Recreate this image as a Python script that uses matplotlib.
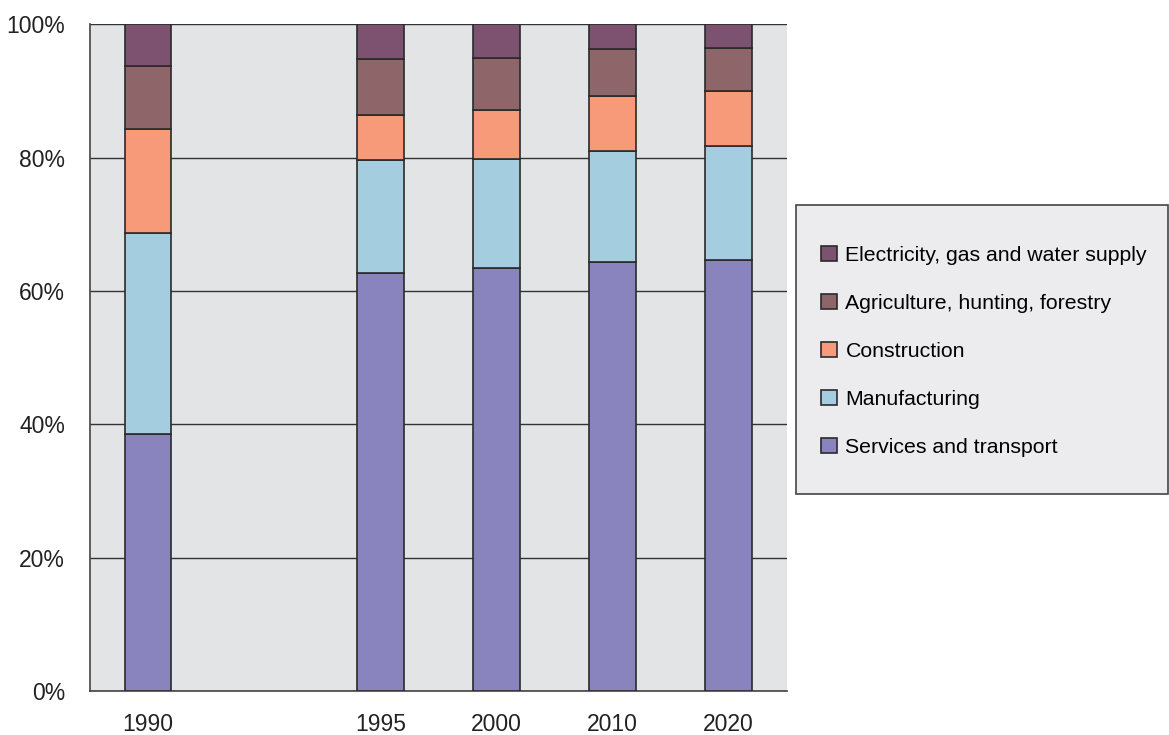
import numpy as np
import matplotlib.pyplot as plt
from matplotlib.patches import Rectangle

plt.rcParams['font.family'] = ['Liberation Sans', 'DejaVu Sans']

# data (share in %)
years = ['1990', '1995', '2000', '2010', '2020']
positions = [0, 2, 3, 4, 5]
services = [38.5, 62.7, 63.4, 64.3, 64.6]
manufacturing = [30.2, 16.9, 16.4, 16.7, 17.1]
construction = [15.6, 6.8, 7.3, 8.2, 8.3]
agriculture = [9.4, 8.4, 7.8, 7.1, 6.4]
electricity = [6.3, 5.2, 5.1, 3.7, 3.6]

series = [
    ('Services and transport', services, '#8984be'),
    ('Manufacturing', manufacturing, '#a5cde0'),
    ('Construction', construction, '#f79a7a'),
    ('Agriculture, hunting, forestry', agriculture, '#8e666a'),
    ('Electricity, gas and water supply', electricity, '#7d5270'),
]

fig = plt.figure(figsize=(11.69, 7.35), dpi=100)
ax = fig.add_axes([0.077, 0.06, 0.596, 0.907])
ax.set_facecolor('#e3e4e6')

bottom = np.zeros(len(years))
handles = []
for name, vals, col in series:
    b = ax.bar(positions, vals, width=0.4, bottom=bottom, color=col,
               edgecolor='#2a2a2a', linewidth=1.2, label=name, zorder=3)
    handles.append(b)
    bottom += np.array(vals)

ax.set_xlim(-0.5, 5.5)
ax.set_ylim(0, 100)
ax.set_yticks([0, 20, 40, 60, 80, 100])
ax.set_yticklabels(['0%', '20%', '40%', '60%', '80%', '100%'])
ax.set_xticks(positions)
ax.set_xticklabels(years)
ax.tick_params(axis='both', length=0, labelsize=16.5, colors='#222222')
ax.tick_params(axis='y', pad=18)
ax.tick_params(axis='x', pad=16)
ax.yaxis.grid(True, color='#333333', linewidth=1.0, zorder=0)
ax.set_axisbelow(True)
for s in ['top', 'right']:
    ax.spines[s].set_visible(False)
for s in ['left', 'bottom']:
    ax.spines[s].set_color('#444444')
    ax.spines[s].set_linewidth(1.2)

# legend box
box = Rectangle((0.681, 0.328), 0.318, 0.393, transform=fig.transFigure,
                facecolor='#ececee', edgecolor='#444444', linewidth=1.2)
fig.patches.append(box)
fig.legend(handles[::-1], [s[0] for s in series][::-1], loc='center left',
           bbox_to_anchor=(0.686, 0.522), frameon=False, fontsize=15.3,
           handlelength=0.75, handleheight=0.75, handletextpad=0.4,
           labelspacing=1.36)

fig.savefig('out.png', dpi=100)
